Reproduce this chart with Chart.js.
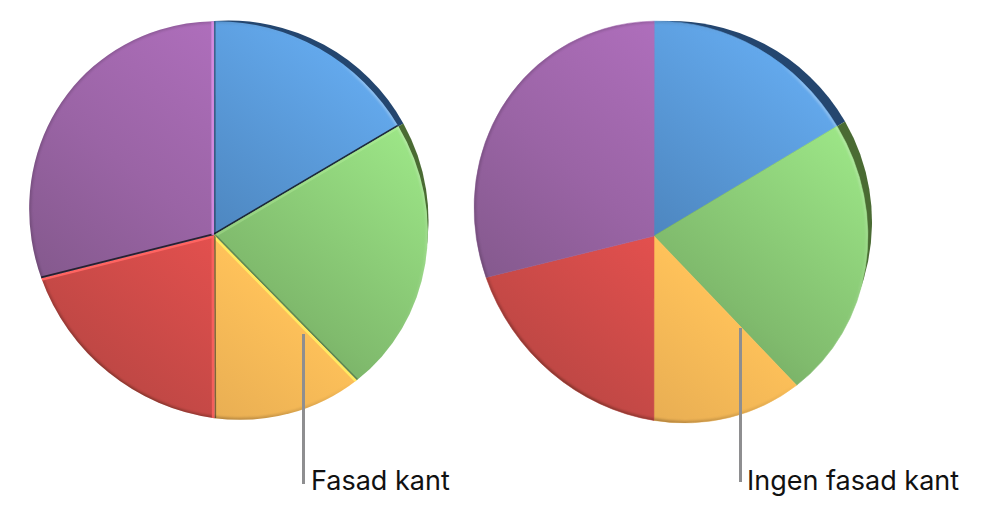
<!DOCTYPE html>
<html lang="sv">
<head>
<meta charset="utf-8">
<title>Fasad kant</title>
<script src="https://cdn.jsdelivr.net/npm/chart.js@4/dist/chart.umd.min.js"></script>
<style>
html,body{margin:0;padding:0;background:#fff;width:987px;height:527px;overflow:hidden}
canvas{position:absolute;top:0}
#c1{left:0}
#c2{left:441px}
.lead{position:absolute;width:3px;background:#8e8e90;z-index:3}
.lab{position:absolute;font:27px Inter,"Noto Sans",sans-serif;color:#111;white-space:nowrap;z-index:3;line-height:32px}
</style>
</head>
<body>
<canvas id="c1" width="457" height="441" style="width:457px;height:441px"></canvas>
<canvas id="c2" width="460" height="444" style="width:460px;height:444px"></canvas>
<div class="lead" style="left:302px;top:334px;height:150px"></div>
<div class="lab" style="left:311px;top:465px">Fasad kant</div>
<div class="lead" style="left:739px;top:328px;height:154px"></div>
<div class="lab" style="left:747px;top:465px">Ingen fasad kant</div>
<script>
// Data (share of the pie, per cent)
const categories = ['Blå', 'Grön', 'Gul', 'Röd', 'Lila'];
const leftValues = [18.1, 22.3, 11.9, 19.1, 28.6];
const rightValues = [18, 22.9, 11.8, 19, 28.3];

// Colours: gradient stops from upper right to lower left per slice
const topColors = ['#66adf2', '#a2ee8c', '#ffcf5f', '#f05454', '#b873c6'];
const midColors = ['#4d86bf', '#80bb6d', '#ffc25a', '#e3504e', '#9a64a5'];
const bottomColors = ['#2e5380', '#5c824c', '#dfa650', '#b94643', '#7c5584'];
const edgeLights = ['#8fcdff', '#c4f7a8', '#ffea60', '#ff6461', '#dd92ea'];
const backColors = ['#24466f', '#4a6b33', null, null, null];
// Bevel strength of each slice's two straight edges: above 0 lit, below 0 shaded
const startEdges = [-0.5, 0.3, 1, 0.8, -1];
const endEdges = [-1, -0.35, -0.6, 1, 0.8];

// Geometry of the tilted discs: a rotated ellipse in front of a round back
const leftPie = {bevel: true, apexDx: -14.5, apexDy: 14.5, major: 205, minor: 193.5, tiltDeg: 45, rotation: -4.2, radius: 200};
const rightPie = {bevel: false, apexDx: -17, apexDy: 14, major: 206, minor: 191.5, tiltDeg: 53, rotation: -4.8, radius: 201};

class TiltedArc extends Chart.ArcElement {
  static id = 'tiltedArc';
  draw(ctx) {
    const c = this.$context;
    const p = c.dataset.tilt;
    const i = c.dataIndex;
    const {x, y, startAngle, endAngle, outerRadius} = this.getProps(['x', 'y', 'startAngle', 'endAngle', 'outerRadius']);
    const A = p.major, B = p.minor, phi = p.tiltDeg * Math.PI / 180;
    const ax = x + p.apexDx, ay = y + p.apexDy;
    // point of the ellipse seen from the disc centre at polar angle a
    const rim = a => {
      const u = Math.cos(a - phi) / A, v = Math.sin(a - phi) / B;
      const r = 1 / Math.hypot(u, v);
      return [x + r * Math.cos(a), y + r * Math.sin(a)];
    };
    const param = a => Math.atan2(Math.sin(a - phi) / B, Math.cos(a - phi) / A);
    const path = () => {
      ctx.beginPath();
      ctx.moveTo(ax, ay);
      const s = rim(startAngle);
      ctx.lineTo(s[0], s[1]);
      ctx.ellipse(x, y, A, B, phi, param(startAngle), param(endAngle));
      ctx.closePath();
    };
    ctx.save();
    const back = backColors[i];
    if (back) {
      ctx.beginPath();
      ctx.moveTo(ax, ay);
      ctx.lineTo(x + outerRadius * Math.cos(startAngle), y + outerRadius * Math.sin(startAngle));
      ctx.arc(x, y, outerRadius, startAngle, endAngle);
      ctx.closePath();
      ctx.fillStyle = back;
      ctx.fill();
    }
    ctx.save();
    const g = ctx.createLinearGradient(x + 140, y - 170, x - 140, y + 170);
    g.addColorStop(0, topColors[i]);
    g.addColorStop(0.55, midColors[i]);
    g.addColorStop(1, bottomColors[i]);
    path();
    ctx.fillStyle = g;
    ctx.strokeStyle = g;
    ctx.lineWidth = 0.6;
    ctx.fill();
    if (!p.bevel) ctx.stroke();

    path();
    ctx.clip();
    // rim bevel, lit from the upper right
    const con = ctx.createConicGradient(-Math.PI / 4, x, y);
    con.addColorStop(0, 'rgba(255,255,255,0.30)');
    con.addColorStop(0.25, 'rgba(255,255,255,0)');
    con.addColorStop(0.27, 'rgba(0,0,0,0)');
    con.addColorStop(0.45, 'rgba(60,30,10,0.42)');
    con.addColorStop(0.6, 'rgba(0,0,0,0.14)');
    con.addColorStop(0.85, 'rgba(0,0,0,0.14)');
    con.addColorStop(0.97, 'rgba(255,255,255,0)');
    con.addColorStop(1, 'rgba(255,255,255,0.30)');
    ctx.filter = 'blur(1.2px)';
    ctx.strokeStyle = con;
    ctx.lineWidth = 4;
    ctx.beginPath();
    ctx.ellipse(x, y, A, B, phi, 0, Math.PI * 2);
    ctx.stroke();
    // straight edge bevels
    if (p.bevel) {
      [[startAngle, startEdges[i]], [endAngle, endEdges[i]]].forEach(([a, d]) => {
        const e = rim(a);
        ctx.globalAlpha = Math.abs(d) * (d > 0 ? 1 : 0.85);
        ctx.strokeStyle = d > 0 ? edgeLights[i] : '#14161f';
        ctx.filter = 'blur(0.5px)';
        ctx.lineWidth = d > 0 ? 5 : 3.5;
        ctx.beginPath();
        ctx.moveTo(ax, ay);
        ctx.lineTo(e[0], e[1]);
        ctx.stroke();
      });
    }
    ctx.restore();
    ctx.restore();
  }
}

class TiltedPieController extends Chart.PieController {
  static id = 'tiltedPie';
  static defaults = {dataElementType: 'tiltedArc'};
}
Chart.register(TiltedArc, TiltedPieController);

function makePie(id, values, tilt) {
  return new Chart(document.getElementById(id), {
    type: 'tiltedPie',
    data: {
      labels: categories,
      datasets: [{data: values, tilt: tilt, backgroundColor: topColors, borderWidth: 0}]
    },
    options: {
      responsive: false,
      animation: false,
      rotation: tilt.rotation,
      radius: tilt.radius,
      layout: {padding: 0},
      events: [],
      plugins: {legend: {display: false}, tooltip: {enabled: false}}
    }
  });
}
makePie('c1', leftValues, leftPie);
makePie('c2', rightValues, rightPie);
</script>
</body>
</html>
